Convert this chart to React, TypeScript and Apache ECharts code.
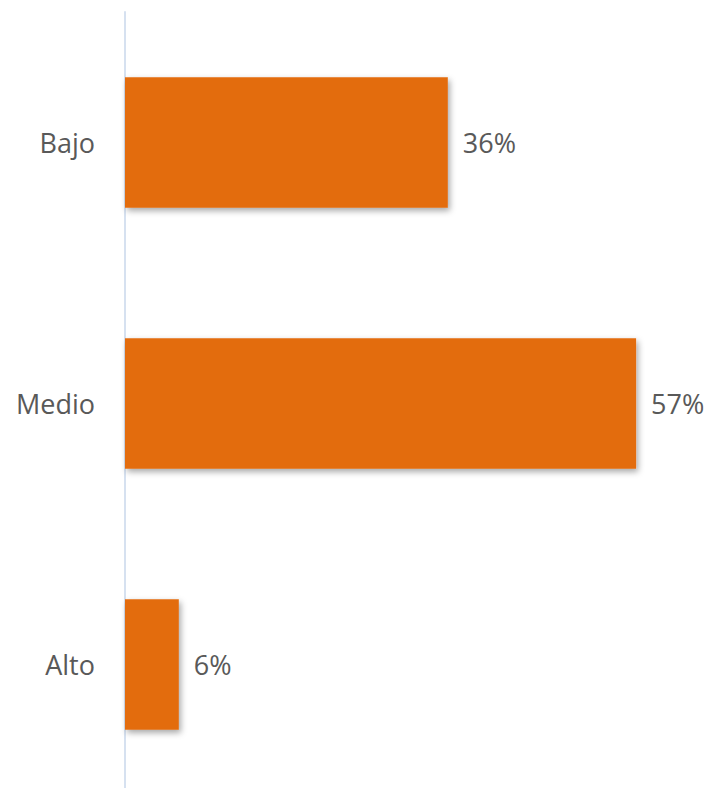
import React, { useEffect, useRef } from "react";
import * as echarts from "echarts";

const categories = ["Bajo", "Medio", "Alto"];
const values = [36, 57, 6];

export default function App() {
  const ref = useRef<HTMLDivElement>(null);
  useEffect(() => {
    const chart = echarts.init(ref.current!, null, { renderer: "svg" });
    chart.setOption({
      animation: false,
      grid: { left: 125, top: 12, width: 538, height: 783, outerBoundsMode: "none", containLabel: false },
      xAxis: {
        type: "value",
        min: 0,
        max: 60,
        show: false,
      },
      yAxis: {
        type: "category",
        data: categories,
        inverse: true,
        axisLine: { show: true, lineStyle: { color: "#d6e1f0", width: 2 } },
        axisTick: { show: false },
        axisLabel: {
          color: "#595959",
          fontSize: 27,
          fontFamily: "Open Sans",
          margin: 30,
        },
      },
      series: [
        {
          type: "bar",
          data: values,
          barCategoryGap: "50%",
          itemStyle: {
            color: "#E36C0A",
            shadowColor: "rgba(0,0,0,0.35)",
            shadowBlur: 6,
            shadowOffsetX: 2,
            shadowOffsetY: 3,
          },
          label: {
            show: true,
            position: "right",
            distance: 15,
            formatter: "{c}%",
            color: "#595959",
            fontSize: 27,
            fontFamily: "Open Sans",
          },
        },
      ],
    });
    return () => chart.dispose();
  }, []);
  return (
    <div
      ref={ref}
      style={{ position: "fixed", left: 0, top: 0, width: 704, height: 788, background: "#fff" }}
    />
  );
}
